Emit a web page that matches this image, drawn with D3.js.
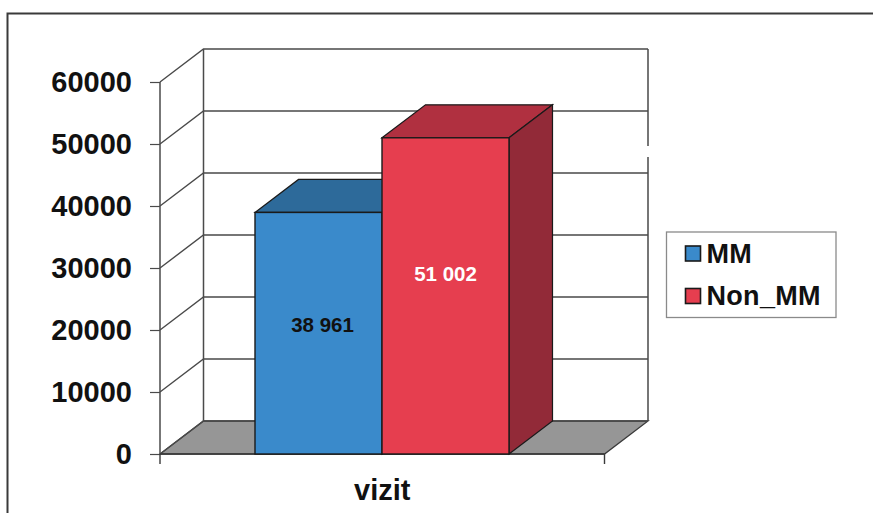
<!DOCTYPE html>
<html><head><meta charset="utf-8">
<script src="https://cdn.jsdelivr.net/npm/d3@7"></script>
<style>html,body{margin:0;padding:0;background:#fff}svg{display:block}text{font-family:"Liberation Sans",Arial,sans-serif}</style>
</head><body><svg id="c" width="873" height="513"></svg>
<script>
const categories = ["vizit"];
const seriesNames = ["MM", "Non_MM"];
const seriesValues = [38961, 51002];
const valueLabels = ["38 961", "51 002"];
const tickValues = [0, 10000, 20000, 30000, 40000, 50000, 60000];
const frontColors = ["#3a8acb", "#e63e4f"];
const topColors = ["#2d6a9a", "#b03040"];
const sideColors = ["#2a5f8a", "#922a38"];
const labelColors = ["#111", "#fff"];

const svg = d3.select("#c");
const y = d3.scaleLinear().domain([0, 60000]).range([454, 82]);
const xCat = d3.scaleBand().domain(categories).range([160, 604.5]);
const xBar = d3.scaleBand().domain(seriesNames).range([255, 509]);
const dx = 43.5, dy = -33;
const line = "#4a4a4a";

// outer frame (open at right and bottom)
svg.append("path").attr("d", "M7.5,513V13.5H873").attr("fill", "none").attr("stroke", "#3a3a3a").attr("stroke-width", 2);

// floor
const x0 = xCat.range()[0], x1 = xCat.range()[1];
svg.append("path").attr("d", `M${x0},${y(0)}L${x1},${y(0)}L${x1+dx},${y(0)+dy}L${x0+dx},${y(0)+dy}Z`)
  .attr("fill", "#969696").attr("stroke", "#3a3a3a").attr("stroke-width", 1.3);

// gridlines: side wall and back wall
svg.append("g").selectAll("path").data(tickValues).join("path")
  .attr("d", d => `M${x0},${y(d)}L${x0+dx},${y(d)+dy}L${x1+dx},${y(d)+dy}`)
  .attr("fill", "none").attr("stroke", line).attr("stroke-width", 1.4);
svg.append("path").attr("d", `M${x0+dx},${y(0)+dy}V${y(60000)+dy}M${x1+dx},${y(0)+dy}V${y(60000)+dy}`)
  .attr("fill", "none").attr("stroke", line).attr("stroke-width", 1.5);
// small scan gap on right wall
svg.append("rect").attr("x", x1+dx-1.5).attr("y", 146).attr("width", 3).attr("height", 11).attr("fill", "#fff");

// y axis
const axis = d3.axisLeft(y).tickValues(tickValues).tickSize(10).tickPadding(18).tickFormat(d3.format("d"));
const gy = svg.append("g").attr("transform", `translate(${x0},0)`).call(axis);
gy.select(".domain").attr("stroke", line).attr("stroke-width", 1.5).attr("d", `M0,${y(60000)}V${y(0)}`);
gy.selectAll(".tick line").attr("stroke", line).attr("stroke-width", 1.2);
gy.selectAll("text").attr("font-size", 29).attr("font-weight", "bold").attr("fill", "#111")
  .style("font-family", '"Liberation Sans",Arial,sans-serif');

// x axis baseline and ticks
svg.append("path").attr("d", `M${x0},${y(0)}H${x1}M${x0},${y(0)}v10M${x1},${y(0)}v10`)
  .attr("stroke", "#3a3a3a").attr("stroke-width", 1.4).attr("fill", "none");
svg.append("text").attr("x", xCat(categories[0]) + xCat.bandwidth()/2).attr("y", 500).attr("text-anchor", "middle")
  .attr("font-size", 29).attr("font-weight", "bold").attr("fill", "#111").text(categories[0]);

// bars
const bars = svg.append("g").selectAll("g").data(seriesNames).join("g");
const barStroke = "#1a1a1a";
bars.append("path").attr("d", (d,i) => {
  const l = xBar(d), r = l + xBar.bandwidth(), t = y(seriesValues[i]);
  return `M${l},${t}L${l+dx},${t+dy}L${r+dx},${t+dy}L${r},${t}Z`;
}).attr("fill", (d,i) => topColors[i]).attr("stroke", barStroke).attr("stroke-width", 1.2);
bars.append("path").attr("d", (d,i) => {
  const r = xBar(d) + xBar.bandwidth(), t = y(seriesValues[i]), b = y(0);
  return `M${r},${t}L${r+dx},${t+dy}L${r+dx},${b+dy}L${r},${b}Z`;
}).attr("fill", (d,i) => sideColors[i]).attr("stroke", barStroke).attr("stroke-width", 1.2);
bars.append("rect").attr("x", d => xBar(d)).attr("width", xBar.bandwidth())
  .attr("y", (d,i) => y(seriesValues[i])).attr("height", (d,i) => y(0) - y(seriesValues[i]))
  .attr("fill", (d,i) => frontColors[i]).attr("stroke", barStroke).attr("stroke-width", 1.4);
bars.append("text").attr("x", (d,i) => xBar(d) + xBar.bandwidth()/2 + (i ? 0 : 4))
  .attr("y", (d,i) => (y(seriesValues[i]) + y(0))/2 + (i ? -15 : -1))
  .attr("text-anchor", "middle").attr("font-size", 20.5).attr("font-weight", "bold")
  .attr("fill", (d,i) => labelColors[i]).text((d,i) => valueLabels[i]);

// legend
svg.append("rect").attr("x", 666.5).attr("y", 232).attr("width", 169.5).attr("height", 85.5)
  .attr("fill", "#fff").attr("stroke", "#8a8a8a").attr("stroke-width", 1.3);
const lg = svg.append("g").selectAll("g").data(seriesNames).join("g")
  .attr("transform", (d,i) => `translate(0,${i*42.5})`);
lg.append("rect").attr("x", 685.5).attr("y", 246).attr("width", 15).attr("height", 15)
  .attr("fill", (d,i) => frontColors[i]).attr("stroke", barStroke).attr("stroke-width", 1.6);
lg.append("text").attr("x", 706.5).attr("y", 262.5).attr("font-size", 27).attr("font-weight", "bold")
  .attr("letter-spacing", 0.3).attr("fill", "#111").text(d => d);
</script></body></html>
